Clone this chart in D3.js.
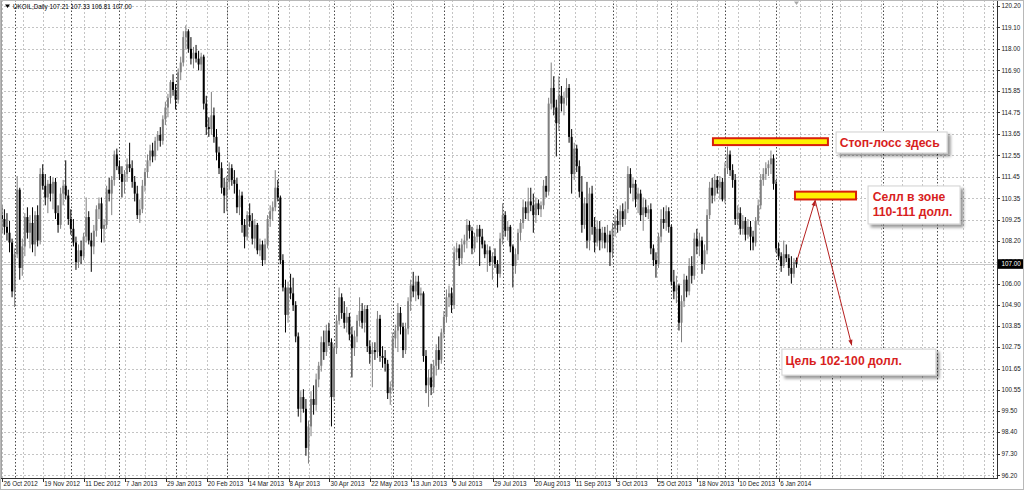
<!DOCTYPE html>
<html>
<head>
<meta charset="utf-8">
<script src="https://cdn.jsdelivr.net/npm/d3@7"></script>
<style>
body { margin: 0; background: #fff; }
svg { display: block; }
</style>
</head>
<body>
<div id="chart"></div>
<script>
var width = 1024;
var height = 490;

var symbol = "UKOIL,Daily";
var startDate = "2012-10-24";
var holidays = ["2012-12-25", "2012-12-26", "2013-01-01", "2013-03-29",
                "2013-12-25", "2013-12-26", "2014-01-01"];

// daily candles, Oct 2012 - Jan 2014
var opens = [
109.8,109.5,109.3,108.9,108.6,108.1,105.6,107.5,110.8,106.8,
107.9,109.4,108.6,109.1,108.0,109.5,108.2,111.6,111.0,110.4,
111.1,110.6,111.2,109.6,109.0,110.6,111.0,110.5,109.3,108.8,
108.1,107.1,107.7,107.4,108.4,109.4,108.2,107.9,108.7,109.8,
110.1,108.8,109.0,110.8,110.6,111.3,112.6,112.0,111.6,111.2,
111.6,112.1,111.9,111.2,110.6,109.5,109.8,111.0,111.7,112.3,
112.8,112.5,113.3,113.6,113.3,114.4,115.0,115.5,116.3,115.9,
115.4,116.8,117.3,118.6,118.9,118.0,117.5,117.8,117.5,117.2,
117.6,115.2,114.0,113.9,114.6,113.5,112.7,111.9,110.9,110.5,
111.2,111.9,111.3,111.1,109.9,110.5,109.0,108.4,109.5,109.2,
108.3,109.0,107.7,108.0,107.2,108.0,109.3,109.7,109.9,110.9,
110.4,107.2,105.8,104.4,105.8,105.5,104.9,103.3,99.6,100.2,
99.6,97.6,98.7,100.1,99.8,101.1,101.8,103.0,102.5,103.6,
103.0,100.2,102.7,104.1,105.3,104.5,104.0,104.3,103.4,102.7,
103.3,104.1,104.6,104.0,104.7,102.8,102.4,102.6,102.5,104.2,
102.3,102.2,101.9,100.4,100.7,103.2,103.6,104.5,103.8,102.6,
103.7,105.1,105.9,105.6,106.1,105.4,105.5,102.3,100.8,101.2,
100.7,101.8,102.6,102.1,103.5,104.3,105.3,105.5,104.9,107.6,
107.8,107.3,108.0,108.2,109.0,108.7,107.8,108.4,108.8,108.4,
108.0,107.5,107.7,107.1,107.4,107.0,106.5,108.3,109.5,108.7,
108.9,107.9,106.9,107.5,108.6,109.1,109.9,109.6,110.2,110.0,
109.5,110.1,109.8,110.0,111.0,110.7,115.2,116.0,115.0,114.2,
115.6,115.2,115.5,116.0,113.5,111.6,112.9,112.0,110.7,109.0,
110.1,108.2,110.6,108.9,108.1,108.8,108.2,108.6,108.1,108.5,
107.6,108.8,109.2,109.0,109.7,109.3,109.8,111.6,110.9,111.1,
110.3,110.6,109.5,109.9,109.6,109.8,107.8,107.2,107.0,108.4,
109.3,109.1,109.7,108.9,106.1,105.6,105.9,104.0,105.1,106.2,
105.6,106.9,106.4,108.3,107.9,108.2,107.0,107.7,109.5,110.9,
110.5,111.3,110.9,111.2,110.3,111.9,112.6,111.8,111.3,109.3,
109.6,108.8,109.2,108.5,108.9,108.4,108.1,109.2,110.0,111.3,
111.6,111.9,112.1,112.4,111.1,107.8,107.4,106.9,107.5,107.3,
106.8,106.5,107.21];

var highs = [
110.3,110.0,109.8,109.6,109.2,108.3,107.8,111.5,110.9,108.3,
109.6,109.9,109.5,109.9,109.7,110.0,111.9,112.1,111.6,111.3,
111.5,111.4,111.4,110.0,110.9,111.3,112.3,110.8,109.8,109.3,
108.4,108.0,108.2,108.6,110.4,109.7,108.6,109.0,110.0,110.4,
110.4,109.3,111.0,111.4,111.5,112.8,112.9,112.3,112.0,111.8,
112.4,113.2,112.3,111.5,111.0,110.3,111.3,111.9,112.6,113.1,
113.2,113.5,113.8,114.0,114.6,115.3,115.7,116.4,116.7,116.2,
117.0,117.6,118.9,119.2,119.0,118.6,118.1,118.2,117.9,117.8,
117.7,115.6,114.5,115.8,115.0,113.9,113.0,112.2,111.4,111.5,
112.2,112.1,111.8,111.4,110.8,110.7,109.3,109.7,110.1,109.6,
109.3,109.1,108.3,108.2,108.3,109.5,110.0,110.2,111.8,111.3,
110.5,107.5,106.2,106.1,106.5,106.3,105.1,103.5,100.5,100.6,
100.1,99.0,100.5,100.8,101.4,102.0,103.3,103.6,103.9,104.0,
103.2,102.9,104.4,105.8,105.5,105.1,104.8,104.5,103.8,103.6,
104.4,105.3,105.0,104.9,104.9,103.1,103.0,103.0,104.6,104.4,
102.8,102.6,102.1,101.0,103.5,103.9,105.0,104.8,104.0,104.0,
105.3,106.2,106.6,106.4,106.4,105.8,105.6,102.6,101.6,101.9,
102.1,102.9,103.3,103.7,104.6,105.7,105.9,105.8,107.9,108.1,
108.0,108.3,108.5,109.3,109.2,108.9,108.6,109.0,109.0,108.8,
108.2,108.0,107.9,107.6,107.8,107.2,108.6,110.1,109.7,109.2,
109.0,108.0,107.8,108.8,109.3,110.3,110.2,110.9,110.9,110.6,
110.4,110.3,110.2,111.3,111.5,115.5,117.3,116.6,115.4,116.6,
116.1,115.8,116.5,116.2,113.9,113.2,113.1,112.3,111.5,110.4,
111.2,110.9,111.0,109.4,109.2,109.2,108.9,108.9,109.0,108.7,
109.1,109.5,109.8,110.0,110.1,110.2,112.0,111.9,111.4,111.3,
110.9,110.8,110.4,110.3,110.0,110.1,108.0,107.6,108.6,109.8,
109.9,110.0,109.9,109.0,106.7,106.4,106.0,105.4,106.5,106.4,
107.3,107.4,108.6,108.8,108.6,108.4,108.0,109.8,111.2,111.4,
111.6,111.5,111.5,111.4,112.2,113.0,112.8,112.1,111.6,110.0,
109.9,109.5,109.4,109.3,109.2,108.7,109.4,110.3,111.6,111.9,
112.2,112.3,112.8,112.6,111.3,108.1,107.6,108.2,108.0,107.5,
107.4,107.3,107.33];

var lows = [
108.9,108.6,108.5,108.2,107.6,105.3,104.8,107.3,106.2,106.4,
107.4,108.3,107.8,107.6,107.4,107.9,108.0,110.8,110.0,109.6,
110.2,109.8,109.3,108.6,108.8,110.0,110.3,109.0,108.5,107.9,
106.7,106.8,107.0,107.2,108.1,108.0,106.6,107.5,108.4,109.3,
108.1,108.1,108.8,110.2,109.5,111.0,111.8,111.3,110.4,110.6,
111.2,111.7,110.9,110.2,109.3,109.1,109.6,110.7,111.4,112.0,
112.2,112.3,112.8,113.0,113.1,114.1,114.5,115.2,115.6,114.9,
115.2,116.4,117.1,118.0,117.8,117.2,117.0,117.3,116.9,116.9,
114.9,113.6,113.5,113.6,113.2,112.3,111.6,110.6,109.6,109.7,
110.8,111.0,110.6,109.6,109.5,108.6,107.8,108.2,108.9,108.0,
107.8,107.5,107.4,106.9,107.0,107.8,108.9,109.2,109.7,110.2,
107.0,105.6,103.5,104.0,105.2,104.6,103.0,99.2,98.9,99.4,
97.2,96.8,98.2,99.3,99.5,100.7,101.5,102.1,102.3,102.8,
98.7,100.0,102.4,103.9,104.2,103.7,103.5,103.1,101.2,102.3,
103.0,103.8,103.7,103.5,102.5,101.9,100.7,102.1,102.2,102.0,
101.7,101.5,100.1,99.8,100.5,102.7,102.5,103.4,102.2,102.4,
103.4,104.6,105.3,105.1,105.2,104.9,102.0,100.4,99.7,100.3,
100.4,101.3,101.6,101.9,103.2,104.0,104.8,104.5,104.7,107.2,
106.9,107.0,107.6,107.8,108.3,107.5,107.6,108.1,106.9,107.8,
107.3,106.6,106.9,106.2,106.8,105.8,106.3,108.0,108.4,108.2,
107.6,105.8,106.5,107.2,108.2,108.8,109.3,109.2,109.7,108.6,
109.1,109.5,109.4,109.8,110.4,110.5,114.9,114.6,112.5,113.8,
114.8,114.6,115.1,113.2,110.6,111.3,111.7,110.4,108.6,108.8,
107.8,107.7,108.5,107.6,107.9,107.7,107.8,107.8,107.6,106.9,
107.3,108.4,108.6,108.7,108.9,109.0,109.6,110.6,110.2,109.9,
109.6,109.2,108.7,109.4,109.3,107.5,106.9,106.3,106.8,108.1,
108.8,108.7,108.6,105.9,105.2,105.0,103.6,103.0,104.8,105.3,
105.4,106.0,106.2,107.5,107.4,106.5,106.7,107.5,109.3,110.1,
110.2,110.6,110.3,110.2,110.1,111.6,111.5,110.9,109.0,109.0,
108.5,108.5,108.2,108.3,107.7,107.7,107.9,109.0,109.8,111.0,
111.3,111.5,111.6,110.8,107.6,107.2,106.6,106.8,107.1,106.4,
106.0,106.3,106.81];

var closes = [
109.5,109.3,108.9,108.6,108.1,105.6,107.5,110.8,106.8,107.9,
109.4,108.6,109.1,108.0,109.5,108.2,111.6,111.0,110.4,111.1,
110.6,111.2,109.6,109.0,110.6,111.0,110.5,109.3,108.8,108.1,
107.1,107.7,107.4,108.4,109.4,108.2,107.9,108.7,109.8,110.1,
108.8,109.0,110.8,110.6,111.3,112.6,112.0,111.6,111.2,111.6,
112.1,111.9,111.2,110.6,109.5,109.8,111.0,111.7,112.3,112.8,
112.5,113.3,113.6,113.3,114.4,115.0,115.5,116.3,115.9,115.4,
116.8,117.3,118.6,118.9,118.0,117.5,117.8,117.5,117.2,117.6,
115.2,114.0,113.9,114.6,113.5,112.7,111.9,110.9,110.5,111.2,
111.9,111.3,111.1,109.9,110.5,109.0,108.4,109.5,109.2,108.3,
109.0,107.7,108.0,107.2,108.0,109.3,109.7,109.9,110.9,110.4,
107.2,105.8,104.4,105.8,105.5,104.9,103.3,99.6,100.2,99.6,
97.6,98.7,100.1,99.8,101.1,101.8,103.0,102.5,103.6,103.0,
100.2,102.7,104.1,105.3,104.5,104.0,104.3,103.4,102.7,103.3,
104.1,104.6,104.0,104.7,102.8,102.4,102.6,102.5,104.2,102.3,
102.2,101.9,100.4,100.7,103.2,103.6,104.5,103.8,102.6,103.7,
105.1,105.9,105.6,106.1,105.4,105.5,102.3,100.8,101.2,100.7,
101.8,102.6,102.1,103.5,104.3,105.3,105.5,104.9,107.6,107.8,
107.3,108.0,108.2,109.0,108.7,107.8,108.4,108.8,108.4,108.0,
107.5,107.7,107.1,107.4,107.0,106.5,108.3,109.5,108.7,108.9,
107.9,106.9,107.5,108.6,109.1,109.9,109.6,110.2,110.0,109.5,
110.1,109.8,110.0,111.0,110.7,115.2,116.0,115.0,114.2,115.6,
115.2,115.5,116.0,113.5,111.6,112.9,112.0,110.7,109.0,110.1,
108.2,110.6,108.9,108.1,108.8,108.2,108.6,108.1,108.5,107.6,
108.8,109.2,109.0,109.7,109.3,109.8,111.6,110.9,111.1,110.3,
110.6,109.5,109.9,109.6,109.8,107.8,107.2,107.0,108.4,109.3,
109.1,109.7,108.9,106.1,105.6,105.9,104.0,105.1,106.2,105.6,
106.9,106.4,108.3,107.9,108.2,107.0,107.7,109.5,110.9,110.5,
111.3,110.9,111.2,110.3,111.9,112.6,111.8,111.3,109.3,109.6,
108.8,109.2,108.5,108.9,108.4,108.1,109.2,110.0,111.3,111.6,
111.9,112.1,112.4,111.1,107.8,107.4,106.9,107.5,107.3,106.8,
106.5,107.1,107.00];

var priceTicks = ["120.20","119.10","118.00","116.90","115.85","114.75","113.65","112.55",
                  "111.45","110.35","109.25","108.20","107.10","106.00","104.90","103.85",
                  "102.75","101.65","100.55","99.50","98.40","97.30","96.20"];
var lastPrice = 107.00;

// the trade plan drawn on top
var stopZone = { from: 279.3, to: 324.3, top: 113.43, bottom: 113.08 };
var sellZone = { from: 311.4, to: 335.3, top: 110.70, bottom: 110.30 };
var pathPoints = [[312, 107.1], [319.3, 110.25], [333.6, 102.85]];

var plotRight = 997, plotBottom = 478;
var n = closes.length;

// trading calendar (weekdays minus holidays)
var parse = d3.timeParse("%Y-%m-%d");
var fmtDay = d3.timeFormat("%Y-%m-%d");
var dates = [];
var d = parse(startDate);
while (dates.length < 400) {
    var wd = d.getDay();
    if (wd !== 0 && wd !== 6 && holidays.indexOf(fmtDay(d)) < 0) dates.push(d);
    d = d3.timeDay.offset(d, 1);
}

var x = d3.scaleLinear().domain([0, n - 1]).range([-0.7, 796.5]);
var y = d3.scaleLinear().domain([96.2, 120.2]).range([475.3, 5.8]);

var svg = d3.select("#chart").append("svg")
    .attr("width", width)
    .attr("height", height)
    .style("font-family", "'Liberation Sans', Arial, sans-serif");

var defs = svg.append("defs");
defs.append("clipPath").attr("id", "plot")
    .append("rect").attr("x", 1).attr("y", 1).attr("width", plotRight - 1).attr("height", plotBottom - 1);

var shadow = defs.append("filter").attr("id", "shadow")
    .attr("x", "-10%").attr("y", "-20%").attr("width", "130%").attr("height", "160%");
shadow.append("feDropShadow").attr("dx", 3).attr("dy", 3).attr("stdDeviation", 1.8)
    .attr("flood-color", "#000").attr("flood-opacity", 0.4);

defs.append("marker").attr("id", "arrow")
    .attr("viewBox", "0 0 10 10").attr("refX", 9).attr("refY", 5)
    .attr("markerWidth", 7).attr("markerHeight", 6)
    .attr("orient", "auto")
    .append("path").attr("d", "M0,1.5L10,5L0,8.5z").attr("fill", "#b52020");

svg.append("rect").attr("width", width).attr("height", height).attr("fill", "#fff");

var plot = svg.append("g").attr("clip-path", "url(#plot)");

// horizontal grid
plot.selectAll("line.hgrid")
    .data(priceTicks)
    .enter().append("line")
    .attr("class", "hgrid")
    .attr("x1", 0).attr("x2", plotRight)
    .attr("y1", function (t) { return Math.round(y(+t)) + 0.5; })
    .attr("y2", function (t) { return Math.round(y(+t)) + 0.5; })
    .attr("stroke", "#c4c4c4")
    .attr("stroke-dasharray", "2,2");

// vertical grid every 8 bars
var gridIdx = d3.range(2, 392, 8);
plot.selectAll("line.vgrid")
    .data(gridIdx)
    .enter().append("line")
    .attr("class", "vgrid")
    .attr("x1", function (i) { return Math.round(x(i) - 2) + 0.5; })
    .attr("x2", function (i) { return Math.round(x(i) - 2) + 0.5; })
    .attr("y1", 0).attr("y2", plotBottom)
    .attr("stroke", "#c4c4c4")
    .attr("stroke-dasharray", "2,2");

// month separators
var monthIdx = d3.range(1, dates.length).filter(function (i) {
    return dates[i].getMonth() !== dates[i - 1].getMonth();
});
plot.selectAll("line.sep")
    .data(monthIdx)
    .enter().append("line")
    .attr("class", "sep")
    .attr("x1", function (i) { return Math.round(x(i)) + 0.5; })
    .attr("x2", function (i) { return Math.round(x(i)) + 0.5; })
    .attr("y1", 0).attr("y2", plotBottom)
    .attr("stroke", "#4a4a4a")
    .attr("stroke-dasharray", "1.5,2");

// last price line
plot.append("line")
    .attr("x1", 0).attr("x2", plotRight)
    .attr("y1", Math.round(y(lastPrice)) + 0.5).attr("y2", Math.round(y(lastPrice)) + 0.5)
    .attr("stroke", "#c8c8c8");

// candles
var bars = plot.selectAll("g.bar")
    .data(d3.range(n))
    .enter().append("g")
    .attr("class", "bar");

function barColor(i) { return closes[i] >= opens[i] ? "#7f7f7f" : "#000"; }

bars.append("line")
    .attr("x1", function (i) { return x(i); })
    .attr("x2", function (i) { return x(i); })
    .attr("y1", function (i) { return y(highs[i]); })
    .attr("y2", function (i) { return y(lows[i]); })
    .attr("stroke", barColor)
    .attr("stroke-width", 1);

bars.append("rect")
    .attr("x", function (i) { return x(i) - 1; })
    .attr("width", 2)
    .attr("y", function (i) { return y(Math.max(opens[i], closes[i])); })
    .attr("height", function (i) {
        return Math.max(1, Math.abs(y(opens[i]) - y(closes[i])));
    })
    .attr("fill", barColor);

// zones
[stopZone, sellZone].forEach(function (z) {
    plot.append("rect")
        .attr("x", x(z.from))
        .attr("y", y(z.top))
        .attr("width", x(z.to) - x(z.from))
        .attr("height", y(z.bottom) - y(z.top))
        .attr("fill", "#fff200")
        .attr("stroke", "#d8200c")
        .attr("stroke-width", 2);
});

// arrows
var pts = pathPoints.map(function (p) { return [x(p[0]), y(p[1])]; });
for (var k = 0; k < pts.length - 1; k++) {
    plot.append("line")
        .attr("x1", pts[k][0]).attr("y1", pts[k][1])
        .attr("x2", pts[k + 1][0]).attr("y2", pts[k + 1][1])
        .attr("stroke", "#b52020")
        .attr("stroke-width", 1)
        .attr("marker-end", "url(#arrow)");
}

// callout boxes
function callout(bx, by, bw, bh, lines) {
    var g = svg.append("g");
    g.append("rect")
        .attr("x", bx).attr("y", by).attr("width", bw).attr("height", bh)
        .attr("fill", "#fff").attr("stroke", "#d0d0d0")
        .attr("filter", "url(#shadow)");
    lines.forEach(function (l) {
        g.append("text")
            .attr("x", l[0]).attr("y", l[1])
            .attr("fill", "#d81e1e")
            .attr("font-size", 12.2)
            .attr("font-weight", "bold")
            .text(l[2]);
    });
}
callout(x(327.5), y(113.75), 111, 21, [[x(328.9), y(113.0), "Стоп-лосс здесь"]]);
callout(x(340.0), y(110.99), 92, 38, [[x(341.8), y(110.24), "Селл в зоне"],
                                       [x(341.8), y(109.45), "110-111 долл."]]);
callout(x(306.3), y(102.65), 154, 26, [[x(307.7), y(101.85), "Цель 102-100 долл."]]);

// frame and price axis
svg.append("rect")
    .attr("x", 0.5).attr("y", 0.5)
    .attr("width", plotRight).attr("height", plotBottom)
    .attr("fill", "none").attr("stroke", "#303030");
svg.append("line").attr("x1", 1.5).attr("x2", 1.5).attr("y1", 0).attr("y2", plotBottom)
    .attr("stroke", "#a0a0a0");

var axis = svg.append("g");
axis.selectAll("line")
    .data(priceTicks)
    .enter().append("line")
    .attr("x1", plotRight).attr("x2", plotRight + 3)
    .attr("y1", function (t) { return Math.round(y(+t)) + 0.5; })
    .attr("y2", function (t) { return Math.round(y(+t)) + 0.5; })
    .attr("stroke", "#303030");
axis.selectAll("text")
    .data(priceTicks)
    .enter().append("text")
    .attr("x", plotRight + 4.5)
    .attr("y", function (t) { return y(+t) + 2.2; })
    .attr("font-size", 6.3)
    .attr("fill", "#202020")
    .text(function (t) { return t; });

axis.append("rect")
    .attr("x", plotRight + 1).attr("y", y(lastPrice) - 4.8)
    .attr("width", width - plotRight - 1).attr("height", 9.6)
    .attr("fill", "#000");
axis.append("text")
    .attr("x", plotRight + 4.5).attr("y", y(lastPrice) + 2.2)
    .attr("font-size", 6.3).attr("fill", "#fff")
    .text(d3.format(".2f")(lastPrice));

// time axis
var fmtLabel = d3.timeFormat("%-d %b %Y");
var labelIdx = d3.range(2, n, 16);
var tAxis = svg.append("g");
tAxis.selectAll("line")
    .data(labelIdx)
    .enter().append("line")
    .attr("x1", function (i) { return Math.round(x(i) - 2) + 0.5; })
    .attr("x2", function (i) { return Math.round(x(i) - 2) + 0.5; })
    .attr("y1", plotBottom).attr("y2", plotBottom + 4)
    .attr("stroke", "#303030");
tAxis.selectAll("text")
    .data(labelIdx)
    .enter().append("text")
    .attr("x", function (i) { return Math.max(2, x(i) - 1); })
    .attr("y", plotBottom + 8)
    .attr("font-size", 6.3)
    .attr("fill", "#202020")
    .text(function (i) { return fmtLabel(dates[i]); });

// header
svg.append("path").attr("d", "M5,4.5L10,4.5L7.5,8z").attr("fill", "#000");
svg.append("text")
    .attr("x", 13).attr("y", 9)
    .attr("font-size", 6.3)
    .attr("fill", "#000")
    .text(symbol + "  " + [opens[n - 1], highs[n - 1], lows[n - 1], closes[n - 1]]
        .map(d3.format(".2f")).join(" "));

// chart shift marker
svg.append("path")
    .attr("d", "M" + (x(n - 1) - 2.5) + ",1.5L" + (x(n - 1) + 2.5) + ",1.5L" + x(n - 1) + ",5z")
    .attr("fill", "#a8a8a8");

// outer border
svg.append("rect").attr("x", 0.5).attr("y", 0.5).attr("width", width - 1).attr("height", height - 1)
    .attr("fill", "none").attr("stroke", "#b8b8b8");
</script>
</body>
</html>
